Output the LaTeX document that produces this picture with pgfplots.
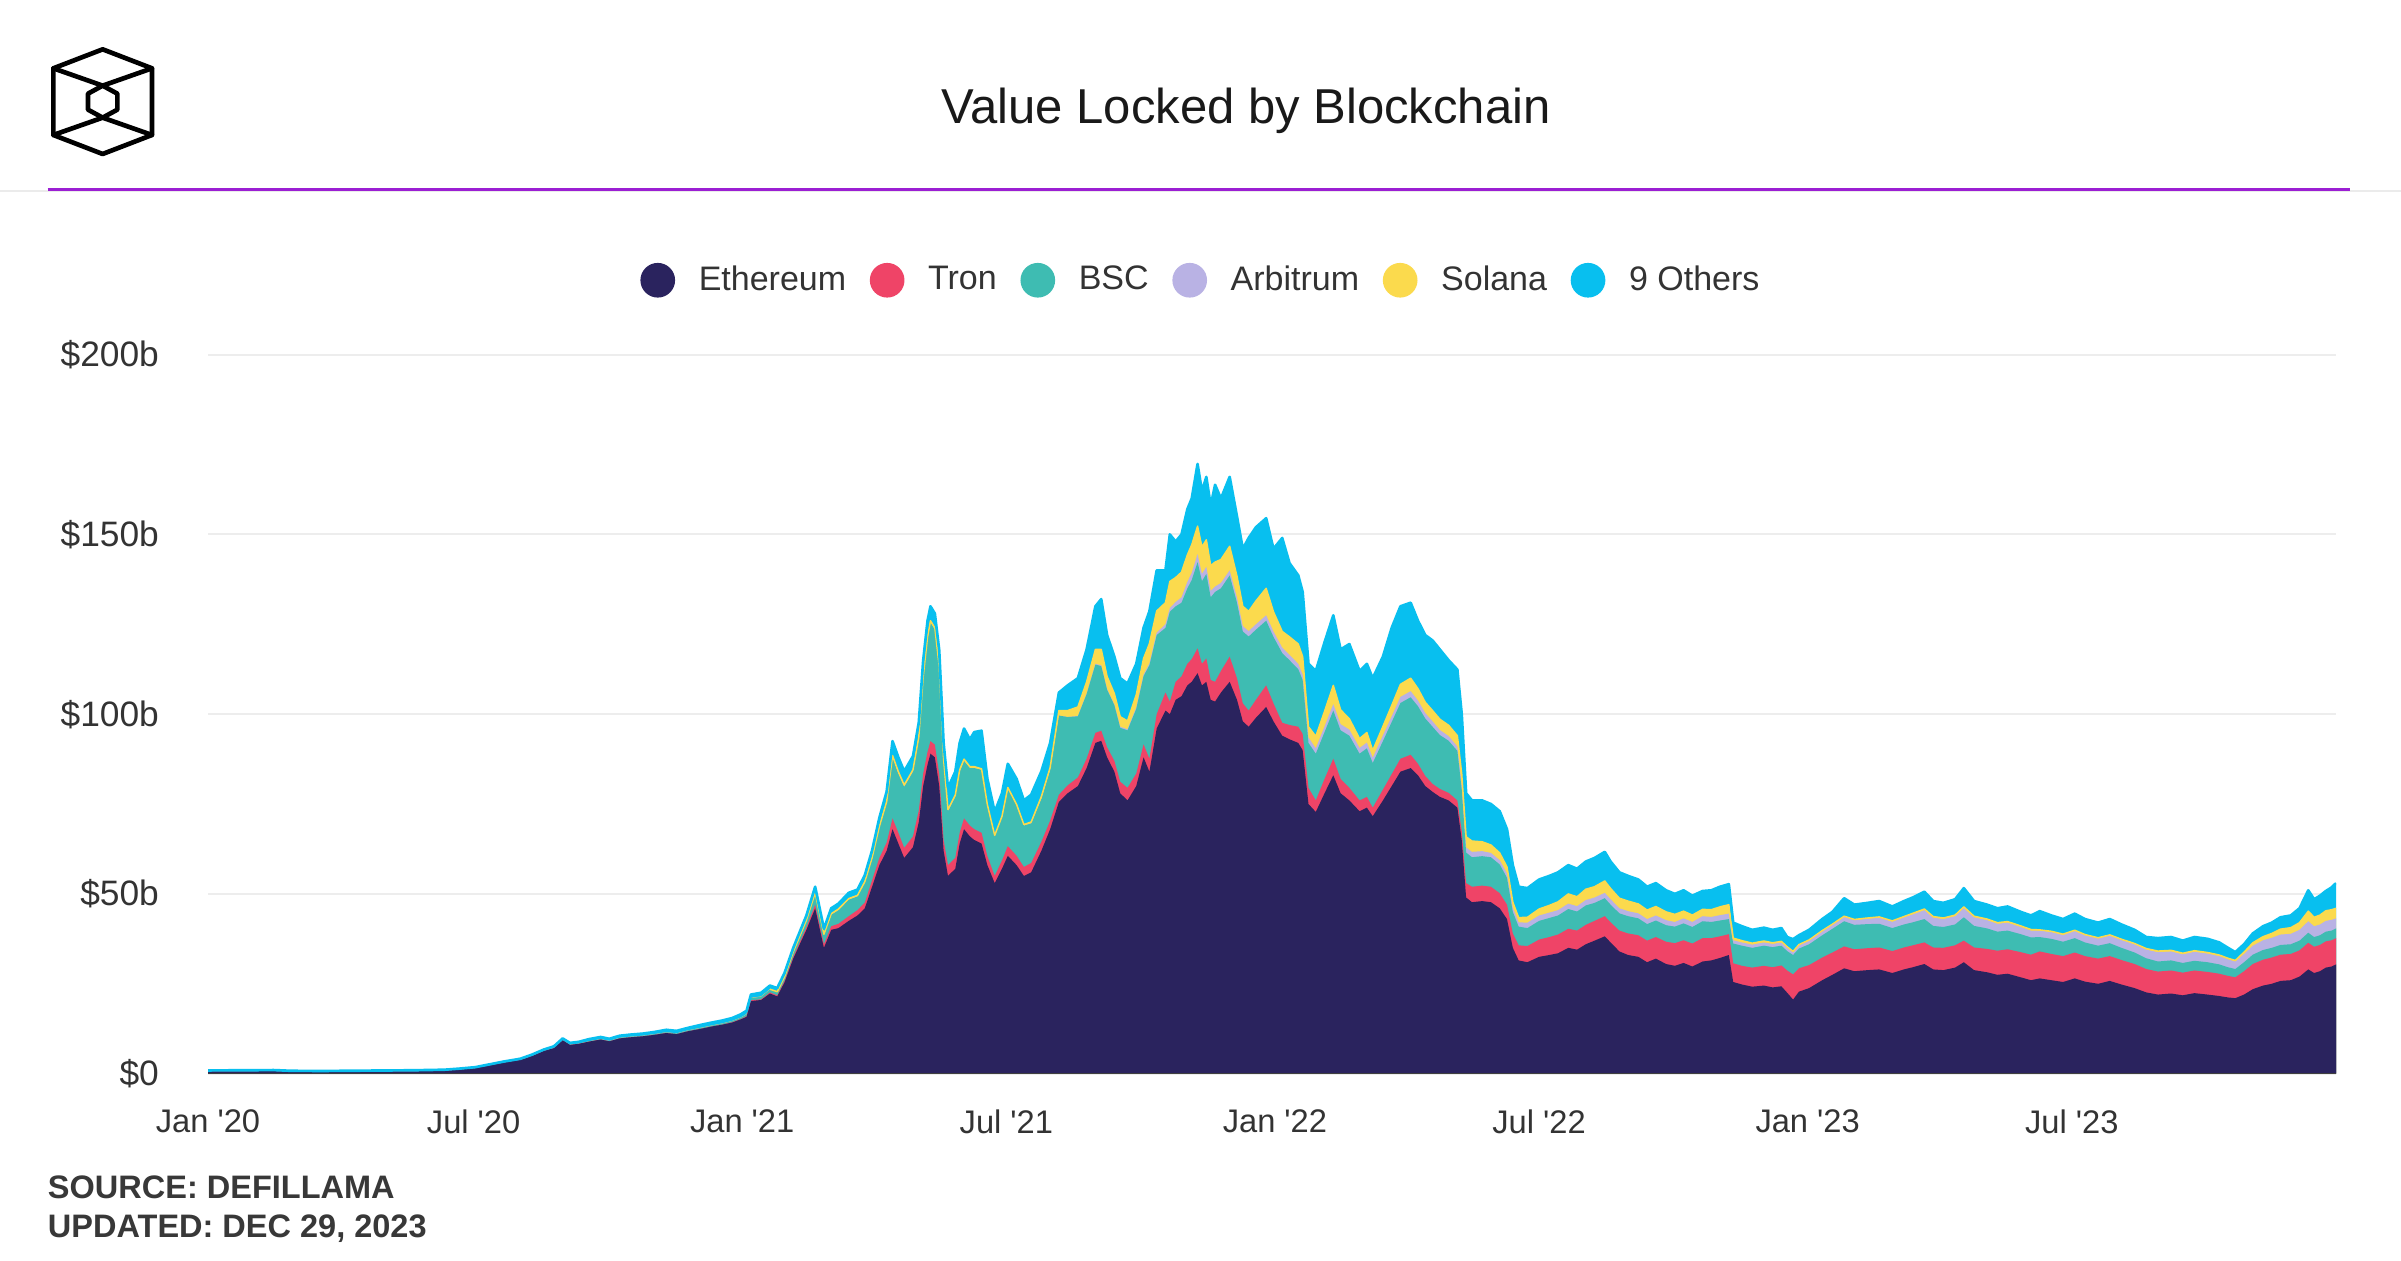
\documentclass[border=0pt]{standalone}
\usepackage{fontspec}
\setmainfont{Liberation Sans}
\usepackage{pgfplots}
\pgfplotsset{compat=1.18}
\usepackage{pgfplotstable}

\definecolor{ethc}{HTML}{2A235E}
\definecolor{tronc}{HTML}{EF4467}
\definecolor{bscc}{HTML}{3EBCB2}
\definecolor{arbc}{HTML}{B9B2E4}
\definecolor{solc}{HTML}{FBDA4D}
\definecolor{othc}{HTML}{08BFEF}
\definecolor{purp}{HTML}{9B1FD3}
\definecolor{txt}{HTML}{333333}

\pgfplotstableread{
d eth tron bsc arb sol oth
0 0.6 0 0 0 0 0.3
25 0.65 0 0 0 0 0.3
45 0.7 0 0 0 0 0.3
57 0.55 0 0 0 0 0.25
78 0.5 0 0 0 0 0.25
109 0.6 0 0 0 0 0.25
141 0.65 0 0 0 0 0.3
162 0.8 0 0 0 0 0.3
172 1.1 0 0 0 0 0.3
183 1.5 0 0 0 0 0.3
193 2.3 0 0 0 0 0.3
203 3.1 0 0 0 0 0.3
214 3.8 0 0 0 0 0.35
222 4.9 0 0 0 0 0.4
230 6.3 0 0 0 0 0.4
237 7.1 0 0 0 0 0.5
243 9.3 0 0 0 0 0.5
248 8.0 0 0.05 0 0 0.5
254 8.3 0 0.05 0 0 0.5
261 8.9 0 0.1 0 0 0.6
269 9.5 0 0.1 0 0 0.6
275 9.0 0 0.1 0 0 0.6
282 9.8 0 0.15 0 0 0.6
289 10.1 0 0.15 0 0 0.6
298 10.4 0 0.15 0 0 0.6
306 10.8 0 0.2 0 0 0.6
314 11.3 0 0.2 0 0 0.7
321 11.0 0 0.2 0 0 0.7
329 11.8 0 0.25 0 0 0.7
338 12.5 0 0.25 0 0.05 0.8
345 13.1 0 0.25 0 0.05 0.8
352 13.6 0 0.3 0 0.05 0.8
359 14.2 0.1 0.3 0 0.05 0.8
365 15.1 0.1 0.35 0 0.05 0.9
369 15.8 0.2 0.5 0 0.1 0.9
372 20.2 0.2 0.6 0 0.1 0.9
379 20.5 0.2 0.7 0 0.1 1.0
385 22.3 0.3 0.8 0 0.1 1.0
390 21.5 0.3 0.9 0 0.1 1.0
395 25.4 0.4 1.0 0 0.1 1.1
401 32.0 0.5 1.2 0 0.2 1.1
406 36.5 0.6 1.5 0 0.2 1.2
410 40.0 0.7 1.8 0 0.2 1.3
416 46.0 1.0 3.0 0 0.3 1.7
422 35.0 1.0 2.5 0 0.3 1.5
427 40.0 1.0 3.2 0 0.3 1.5
432 40.5 1.2 3.8 0 0.3 1.5
439 42.5 1.3 4.6 0 0.3 1.6
445 44.0 1.5 3.8 0 0.3 1.6
450 46.0 1.6 5.5 0 0.3 1.8
455 52.0 1.8 6.0 0 0.3 2.0
460 58.0 2.0 8.5 0 0.3 2.4
465 62.0 2.3 11.0 0 0.4 2.8
469 68.0 3.0 17.0 0 0.5 4.0
473 64.0 3.0 16.5 0 0.5 4.0
477 60.0 2.8 17.0 0 0.5 3.8
483 63.0 3.0 18.0 0 0.5 3.8
487 70.0 3.2 20.0 0 0.5 4.0
490 80.0 3.4 26.5 0 0.5 4.5
493 86.0 3.5 31.5 0 0.5 4.5
495 89.0 3.5 33.0 0 0.5 4.0
498 88.0 3.5 32.0 0 0.5 4.0
501 80.0 3.3 29.5 0 0.5 4.5
504 62.0 3.0 22.0 0 0.5 4.5
507 55.0 3.0 15.0 0 0.5 6.0
512 57.0 3.0 17.0 0 0.5 6.5
515 64.0 3.0 17.0 0 0.5 7.5
518 68.0 3.0 16.0 0 0.5 8.5
522 66.0 3.0 16.0 0 0.4 7.6
525 65.0 3.0 17.0 0 0.4 9.6
530 64.0 3.0 17.5 0 0.3 10.6
534 58.0 2.5 14.0 0 0.3 7.2
539 53.0 2.0 11.0 0 0.3 6.5
544 57.0 2.3 12.0 0 0.3 6.4
548 60.6 2.7 16.0 0 0.3 6.6
554 58.0 2.6 14.0 0 0.3 7.1
559 55.0 2.5 11.5 0 0.3 6.7
564 56.0 2.6 11.0 0 0.4 7.6
571 62.0 2.5 12.0 0 0.6 7.0
577 68.0 2.4 14.0 0 0.8 6.8
583 75.6 2.0 22.0 0 1.4 5.0
589 78.0 2.2 19.0 0 1.8 7.0
596 80.0 2.4 17.0 0.1 2.5 8.0
602 85.0 2.6 18.0 0.1 3.3 9.0
608 92.0 2.8 19.0 0.2 4.0 12.0
612 92.6 2.8 18.0 0.2 4.4 14.0
616 88.0 2.8 16.0 0.2 3.5 11.5
621 84.0 3.0 15.5 0.2 3.0 10.3
625 78.0 3.2 15.0 0.3 2.8 10.7
630 76.0 3.5 16.0 0.3 2.3 10.4
636 80.0 3.5 18.0 0.4 3.5 8.6
641 88.0 3.6 19.0 0.4 4.5 8.5
645 84.0 3.6 26.0 0.5 5.5 9.0
650 96.0 4.0 22.0 0.7 6.0 11.3
656 101.0 5.0 18.0 1.0 6.0 9.0
659 100.0 3.5 25.0 1.0 7.4 13.1
663 104.0 5.0 21.0 1.2 6.8 10.0
667 105.0 5.5 20.5 1.5 7.0 10.5
671 108.0 6.0 21.0 1.8 7.5 12.7
674 109.0 6.3 22.0 2.0 7.8 12.9
678 111.4 6.9 24.0 2.2 7.8 17.3
681 108.0 6.0 23.0 2.0 7.5 15.5
684 109.0 6.5 23.5 2.0 7.5 17.5
687 104.0 5.5 23.0 1.8 7.0 16.7
690 103.5 5.5 25.0 1.5 6.8 21.5
694 106.0 6.0 23.0 1.5 6.5 17.0
700 109.0 7.0 22.6 1.4 6.7 19.3
705 104.0 6.0 21.0 1.4 6.0 16.6
709 98.0 5.0 20.0 1.5 5.5 16.0
713 96.5 4.5 20.6 1.5 5.5 20.4
718 99.0 5.0 19.5 1.5 6.5 20.5
725 102.0 6.0 18.0 1.5 7.5 19.5
730 98.0 5.0 18.5 1.5 5.5 17.5
736 94.0 3.6 19.4 1.5 4.5 26.0
741 93.0 4.0 18.0 1.5 5.0 20.5
747 92.0 4.5 16.0 1.5 5.5 19.1
750 90.0 4.5 15.0 1.5 5.0 18.0
754 75.0 4.5 12.5 1.5 3.0 17.5
759 72.8 3.2 13.0 1.5 3.3 18.2
765 78.0 4.0 13.0 1.6 4.2 19.2
771 83.0 4.6 13.4 1.8 5.2 19.5
776 78.0 4.0 13.5 1.7 4.0 16.8
782 76.0 3.5 14.5 1.7 3.0 20.8
789 73.0 3.0 13.0 1.6 2.6 18.8
794 74.0 3.0 13.5 1.6 2.8 19.1
798 71.6 2.4 12.4 1.5 2.0 20.1
805 76.0 3.0 13.5 1.6 2.5 19.4
811 80.0 3.3 14.5 1.6 3.0 21.6
817 84.0 3.6 15.5 1.7 3.5 21.7
824 85.0 3.7 16.0 1.7 3.6 21.0
829 83.0 3.2 16.0 1.6 3.3 18.9
834 80.0 2.8 16.0 1.5 3.0 18.7
839 78.4 2.2 15.9 1.5 3.0 19.5
844 77.0 2.2 15.0 1.4 3.0 19.4
850 76.0 2.1 14.5 1.3 3.0 18.1
856 74.0 2.0 13.8 1.2 3.0 18.4
859 65.0 2.5 11.5 1.3 3.0 16.7
862 49.0 4.0 8.5 1.4 3.0 12.1
866 47.7 4.3 8.2 1.5 3.0 11.3
873 48.0 4.3 8.2 1.4 2.6 11.5
879 47.7 4.3 8.2 1.2 2.2 11.4
885 46.0 4.2 8.0 1.2 2.0 11.6
890 43.0 4.0 7.5 1.2 1.8 10.5
894 35.0 4.0 6.0 1.2 1.5 10.3
898 31.5 4.2 5.2 1.2 1.3 8.6
904 31.0 4.5 5.0 1.5 1.5 8.1
912 32.5 4.8 5.2 1.5 1.8 8.2
919 33.0 5.0 5.3 1.5 2.0 8.2
925 33.5 5.2 5.3 1.5 2.3 8.2
932 35.0 5.3 5.5 1.5 2.7 8.0
938 34.5 5.3 5.3 1.5 2.6 7.8
944 36.0 5.4 5.4 1.5 3.0 7.7
950 37.0 5.5 5.0 1.5 3.0 8.0
957 38.2 5.6 5.0 1.5 3.3 8.1
961 36.5 5.6 4.9 1.5 3.0 7.5
967 34.0 5.8 4.8 1.4 2.8 7.2
973 33.0 6.0 4.8 1.4 2.8 7.0
980 32.5 6.0 4.7 1.4 2.6 6.8
986 31.0 6.0 4.6 1.4 2.5 6.5
992 32.0 6.0 4.6 1.4 2.5 6.5
999 30.5 6.2 4.6 1.4 2.3 6.0
1005 30.0 6.3 4.6 1.3 2.1 5.7
1011 30.8 6.3 4.7 1.4 2.0 5.8
1017 29.8 6.4 4.6 1.4 1.9 5.4
1024 31.2 6.5 4.7 1.4 1.9 5.1
1030 31.5 6.2 4.5 1.4 2.0 5.4
1036 32.2 6.0 4.4 1.5 2.3 5.6
1042 33.0 5.8 4.2 1.5 2.5 5.7
1045 25.5 5.2 5.5 0.9 0.6 4.3
1051 24.8 5.2 5.6 0.9 0.5 4.0
1058 24.2 5.3 5.5 0.9 0.4 3.7
1066 24.5 5.5 5.6 0.9 0.4 3.7
1072 24.0 5.6 5.6 0.9 0.3 3.6
1078 24.3 5.8 5.5 0.9 0.3 3.7
1082 22.5 6.2 5.4 0.9 0.3 2.7
1086 20.6 7.0 5.4 0.8 0.2 3.4
1090 22.8 6.5 5.5 0.9 0.2 2.6
1097 23.8 6.4 5.8 1.0 0.2 2.8
1106 26.0 6.3 6.2 1.1 0.2 3.2
1113 27.5 6.2 6.6 1.1 0.2 3.4
1121 29.3 6.1 7.0 1.2 0.2 5.0
1128 28.5 6.1 6.8 1.3 0.2 4.1
1137 28.8 6.1 6.7 1.5 0.2 4.2
1145 29.0 6.1 6.6 1.7 0.2 4.4
1154 28.0 6.1 6.4 1.8 0.2 4.0
1162 29.0 6.1 6.4 2.0 0.2 4.3
1168 29.6 6.1 6.4 2.2 0.3 4.4
1176 30.5 6.0 6.5 2.5 0.3 4.8
1182 29.0 6.1 6.0 2.3 0.3 4.3
1189 28.8 6.2 5.8 2.2 0.3 4.2
1197 29.5 6.2 5.8 2.3 0.3 4.4
1203 31.0 6.0 6.5 2.6 0.3 5.2
1210 28.8 6.3 6.0 2.4 0.3 4.2
1219 28.2 6.5 5.7 2.3 0.3 4.0
1226 27.5 6.7 5.3 2.2 0.3 4.0
1233 27.8 6.8 5.2 2.2 0.3 4.2
1242 26.8 7.0 5.0 2.0 0.3 3.9
1249 26.0 7.1 4.8 1.9 0.3 3.9
1255 26.5 7.5 4.0 1.8 0.2 5.2
1263 26.0 7.3 4.2 1.9 0.2 4.4
1271 25.5 7.2 4.0 1.9 0.2 4.2
1279 26.5 7.2 4.0 2.0 0.2 4.6
1286 25.6 7.1 3.8 2.0 0.2 4.3
1295 25.0 7.0 3.6 2.0 0.2 4.2
1303 25.8 6.9 3.6 2.1 0.2 4.4
1311 24.8 6.8 3.4 2.2 0.2 4.1
1320 23.8 6.7 3.2 2.3 0.2 3.8
1328 22.6 6.5 3.0 2.4 0.3 3.2
1336 22.0 6.4 2.8 2.6 0.3 3.6
1345 22.3 6.4 2.8 2.5 0.3 3.7
1353 21.8 6.3 2.7 2.4 0.3 3.5
1361 22.4 6.3 2.7 2.5 0.3 3.8
1370 22.0 6.3 2.7 2.4 0.3 3.8
1378 21.6 6.2 2.6 2.3 0.3 3.5
1384 21.2 6.0 2.4 2.2 0.3 2.9
1389 21.0 5.8 2.3 2.1 0.3 2.3
1395 22.0 6.5 2.5 2.3 0.5 2.2
1401 23.5 7.0 2.6 2.5 0.8 2.6
1408 24.5 7.2 2.7 2.7 1.0 2.9
1414 25.0 7.3 2.7 2.8 1.2 3.0
1420 25.8 7.3 2.7 2.9 1.5 3.3
1427 26.0 7.3 2.7 2.9 1.7 3.4
1433 27.0 7.3 2.7 3.0 2.0 4.0
1439 29.0 7.4 2.8 3.2 2.8 5.8
1443 28.0 7.3 2.7 3.0 2.5 5.0
1447 28.5 7.3 2.7 3.0 2.6 5.4
1451 29.5 7.3 2.7 3.0 2.8 5.5
1455 29.8 7.3 2.7 3.0 2.8 6.2
1458 30.4 7.3 2.7 2.8 2.8 7.0
}\tvl

\pgfplotsset{
  circ legend/.style={legend image code/.code={\fill[#1, draw=none] (0pt,0pt) circle (5.2pt);}},
}

\begin{document}
\begin{tikzpicture}[x=1pt,y=1pt]
\useasboundingbox (0,0) rectangle (720.3,378);
\fill[white] (0,0) rectangle (720.3,378);
% header separator
\draw[black!8, line width=0.6pt] (0,320.6) -- (720.3,320.6);
\draw[purp, line width=0.9pt] (14.25,321) -- (705,321);
% logo
\begin{scope}[shift={(30.8,347.5)}, line width=1.4pt, line join=round, line cap=round]
\draw (0,15.7) -- (14.8,10) -- (14.8,-10) -- (0,-15.7) -- (-14.8,-10) -- (-14.8,10) -- cycle;
\draw (-14.8,10) -- (0,4.8) -- (14.8,10);
\draw (-14.8,-10) -- (0,-4.8) -- (14.8,-10);
\draw (0,4.8) -- (4.4,2.4) -- (4.4,-2.4) -- (0,-4.8) -- (-4.4,-2.4) -- (-4.4,2.4) -- cycle;
\end{scope}
% title
\node[anchor=base, inner sep=0pt, font=\fontsize{14.7}{16}\selectfont, text=black!90] at (373.8,340.8) {Value Locked by Blockchain};
% footer
\node[anchor=base west, inner sep=0pt, font=\bfseries\fontsize{9.75}{11}\selectfont, text=black!78] at (14.2,18.6) {SOURCE: DEFILLAMA};
\node[anchor=base west, inner sep=0pt, font=\bfseries\fontsize{9.75}{11}\selectfont, text=black!78] at (14.2,6.9) {UPDATED: DEC 29, 2023};

\begin{axis}[
  at={(62.4pt,55.9pt)}, anchor=south west, scale only axis,
  width=638.4pt, height=215.7pt,
  xmin=0, xmax=1458, ymin=0, ymax=200,
  axis line style={draw=none}, major tick length=0pt,
  xtick={0,182,366,547,731,912,1096,1277},
  xticklabels={Jan \textquotesingle20, Jul \textquotesingle20, Jan \textquotesingle21, Jul \textquotesingle21, Jan \textquotesingle22, Jul \textquotesingle22, Jan \textquotesingle23, Jul \textquotesingle23},
  ytick={0,50,100,150,200},
  yticklabels={\$0,\$50b,\$100b,\$150b,\$200b},
  ymajorgrids, grid style={draw=black!7, line width=0.6pt},
  xticklabel style={font=\fontsize{9.8}{11}\selectfont, text=txt, yshift=-7.3pt},
  yticklabel style={font=\fontsize{10.6}{12}\selectfont, text=txt, xshift=-11.2pt},
  circ legend,
  legend columns=6,
  legend style={at={(0.4677,1.1035)}, anchor=center, draw=none, fill=none,
    font=\fontsize{10.2}{12}\selectfont, text=txt, column sep=5.1pt},
  legend entries={Ethereum, Tron, BSC, Arbitrum, Solana, 9 Others},
]
\addlegendimage{fill=ethc}
\addlegendimage{fill=tronc}
\addlegendimage{fill=bscc}
\addlegendimage{fill=arbc}
\addlegendimage{fill=solc}
\addlegendimage{fill=othc}

\addplot[fill=othc, draw=none, forget plot] table[x=d, y expr=\thisrow{eth}+\thisrow{tron}+\thisrow{bsc}+\thisrow{arb}+\thisrow{sol}+\thisrow{oth}] {\tvl} \closedcycle;
\addplot[fill=solc, draw=none, forget plot] table[x=d, y expr=\thisrow{eth}+\thisrow{tron}+\thisrow{bsc}+\thisrow{arb}+\thisrow{sol}] {\tvl} \closedcycle;
\addplot[fill=arbc, draw=none, forget plot] table[x=d, y expr=\thisrow{eth}+\thisrow{tron}+\thisrow{bsc}+\thisrow{arb}] {\tvl} \closedcycle;
\addplot[fill=bscc, draw=none, forget plot] table[x=d, y expr=\thisrow{eth}+\thisrow{tron}+\thisrow{bsc}] {\tvl} \closedcycle;
\addplot[fill=tronc, draw=none, forget plot] table[x=d, y expr=\thisrow{eth}+\thisrow{tron}] {\tvl} \closedcycle;
\addplot[fill=ethc, draw=none, forget plot] table[x=d, y=eth] {\tvl} \closedcycle;
\addplot[solc, line width=0.45pt, line join=round, forget plot, restrict x to domain=380:1458] table[x=d, y expr=\thisrow{eth}+\thisrow{tron}+\thisrow{bsc}+\thisrow{arb}+\thisrow{sol}] {\tvl};
\addplot[othc, line width=0.8pt, line join=round, forget plot] table[x=d, y expr=\thisrow{eth}+\thisrow{tron}+\thisrow{bsc}+\thisrow{arb}+\thisrow{sol}+\thisrow{oth}] {\tvl};
\draw[black!75, line width=0.6pt] (axis cs:0,0) -- (axis cs:1458,0);
\end{axis}
\end{tikzpicture}
\end{document}
